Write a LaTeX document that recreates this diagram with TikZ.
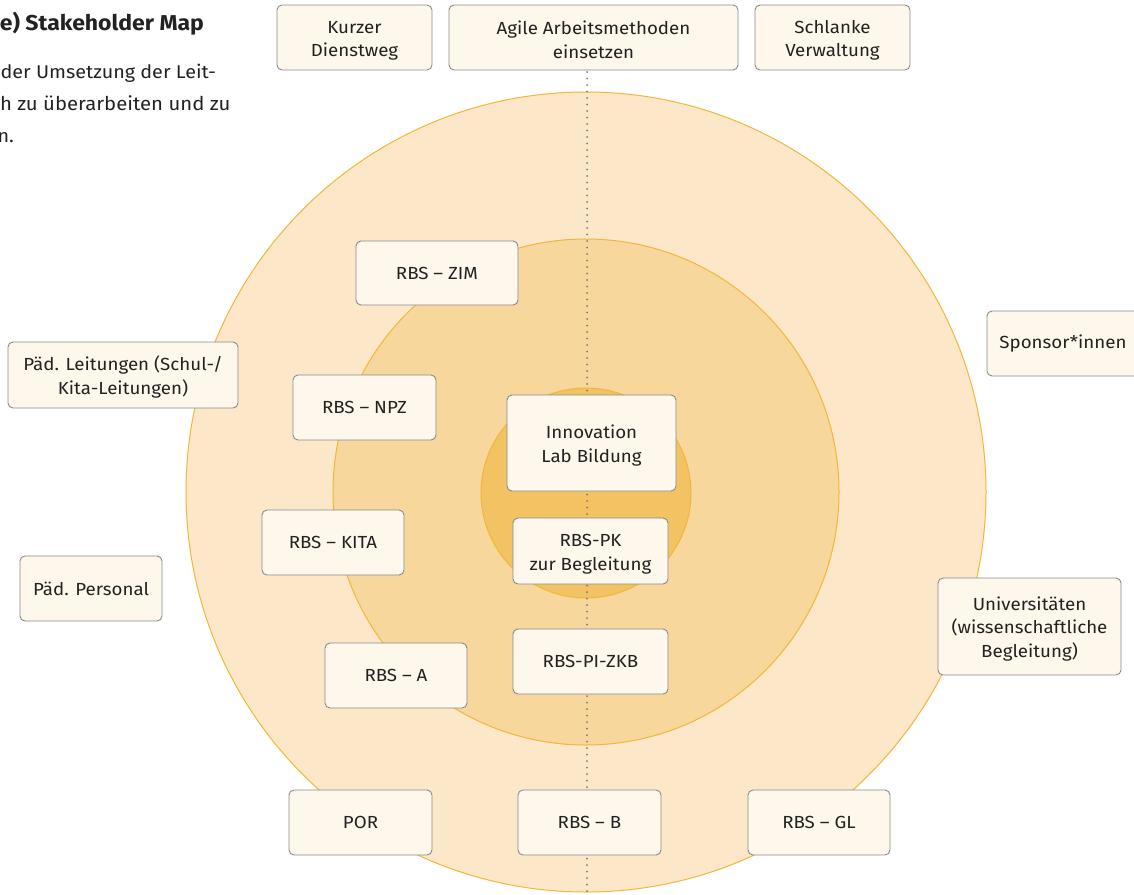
\documentclass[tikz,border=0pt]{standalone}
\usepackage{fontspec}
\setmainfont{Fira Sans}[FakeStretch=1.07]
\newcommand\lowstrut{\rule{0pt}{18.5pt}}
\begin{document}
\begin{tikzpicture}[x=1pt,y=-1pt,
  every node/.style={inner sep=0pt, outer sep=0pt},
  box/.style={draw=boxline, fill=boxfill, line width=0.9pt, rounded corners=5pt,
    align=center, text=ink, font=\fontsize{17.5}{23.5}\selectfont},
  ring/.style={draw=ringline, line width=1pt},
  axis/.style={draw=axisdot, line width=2pt, line cap=round, dash pattern=on 0pt off 6.5pt},
  note/.style={anchor=base east, text=ink, font=\fontsize{18.5}{32}\selectfont}]
\definecolor{ringouter}{HTML}{FCE8C9}
\definecolor{ringmid}{HTML}{F8D79C}
\definecolor{ringinner}{HTML}{F2C263}
\definecolor{ringline}{HTML}{F2B63A}
\definecolor{boxfill}{HTML}{FDF7EC}
\definecolor{boxline}{HTML}{8A8A8A}
\definecolor{axisdot}{HTML}{7A7A7A}
\definecolor{ink}{HTML}{222222}
\useasboundingbox (0,0) rectangle (1134,894);
\clip (0,0) rectangle (1134,894);

% concentric stakeholder rings
\filldraw[ring, fill=ringouter] (586,492) circle (400);
\filldraw[ring, fill=ringmid] (586,492) circle (253);
\filldraw[ring, fill=ringinner] (586,493) circle (105);

% vertical axis
\coordinate (axtop) at (587,72);
\coordinate (axbot) at (587,894);
\draw[axis] (axtop) -- (axbot);

% heading and intro text
\node[note, font=\fontsize{21.5}{24}\selectfont\bfseries] (title) at (204,30) {e) Stakeholder Map};
\node[note] (l1) at (216,78) {der Umsetzung der Leit-};
\node[note, anchor=base west, font=\fontsize{19}{32}\selectfont] (l2) at (0,110) {h zu überarbeiten und zu};
\node[note] (l3) at (14,142) {n.};

% stakeholder boxes
\node[box, minimum width=155, minimum height=65] (kurz) at (354.5,37.5) {\lowstrut Kurzer\\Dienstweg};
\node[box, minimum width=289, minimum height=65] (agile) at (593.5,37.5) {\lowstrut Agile Arbeitsmethoden\\einsetzen};
\node[box, minimum width=155, minimum height=65] (schlank) at (832.5,37.5) {\lowstrut Schlanke\\Verwaltung};
\node[box, minimum width=162, minimum height=64] (zim) at (437,273) {RBS – ZIM};
\node[box, minimum width=230, minimum height=66] (paedl) at (123,375) {\lowstrut Päd. Leitungen (Schul-/\\Kita-Leitungen)};
\node[box, minimum width=143, minimum height=65] (npz) at (364.5,407.5) {RBS – NPZ};
\node[box, minimum width=169, minimum height=96] (lab) at (591.5,443) {\lowstrut Innovation\\Lab Bildung};
\node[box, minimum width=152, minimum height=65] (spons) at (1063,343.5) {Sponsor*innen};
\node[box, minimum width=142, minimum height=65] (kita) at (333,542.5) {RBS – KITA};
\node[box, minimum width=155, minimum height=66] (pk) at (590.5,551) {\lowstrut RBS-PK\\zur Begleitung};
\node[box, minimum width=142, minimum height=65] (paedp) at (91,588.5) {Päd. Personal};
\node[box, minimum width=183, minimum height=97] (uni) at (1029.5,626.5) {\lowstrut Universitäten\\(wissenschaftliche\\Begleitung)};
\node[box, minimum width=142, minimum height=65] (rbsa) at (396,675.5) {RBS – A};
\node[box, minimum width=155, minimum height=65] (zkb) at (590.5,661.5) {RBS-PI-ZKB};
\node[box, minimum width=143, minimum height=65] (por) at (360.5,822.5) {POR};
\node[box, minimum width=143, minimum height=65] (rbsb) at (589.5,822.5) {RBS – B};
\node[box, minimum width=142, minimum height=65] (gl) at (819,822.5) {RBS – GL};
\end{tikzpicture}
\end{document}
